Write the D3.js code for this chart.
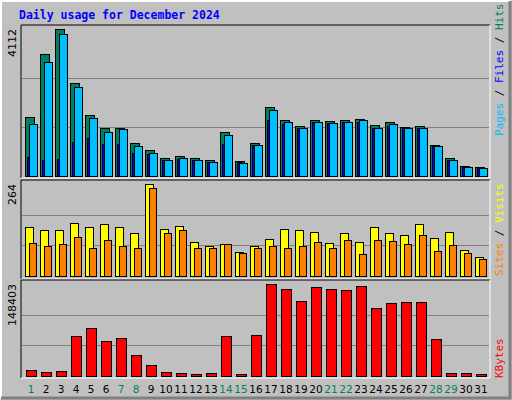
<!DOCTYPE html>
<html><head><meta charset="utf-8">
<script src="https://cdn.jsdelivr.net/npm/d3@7"></script>
<style>body{margin:0;background:#fff}</style>
</head><body>
<svg id="chart" width="512" height="400"></svg>
<script>
var days = d3.range(1, 32);
var weekend = [1, 7, 8, 14, 15, 21, 22, 28, 29];
var hits = [1650,3410,4112,2600,1705,1340,1340,925,730,505,560,505,450,1230,420,925,1930,1565,1400,1565,1540,1565,1595,1425,1510,1370,1400,865,505,280,250];
var pages = [1455,3190,3970,2490,1620,1230,1315,840,640,450,505,450,390,1145,365,865,1845,1510,1340,1510,1480,1510,1565,1340,1455,1340,1340,840,450,250,225];
var files = [530,450,475,950,1060,895,895,640,615,450,475,450,390,895,390,865,1565,1455,1340,1510,1480,1510,1510,1340,1400,1340,1340,840,450,250,225];
var visits = [141,132,132,152,141,149,141,123,264,135,143,98,86,92,69,86,106,135,132,126,95,123,98,141,123,118,149,109,126,75,55];
var sites = [95,86,92,112,80,103,86,80,253,123,132,80,80,92,66,80,86,80,86,98,80,103,63,103,100,92,118,72,89,66,49];
var kbytes = [10290,7040,8670,63910,76910,55790,60660,34660,18410,7040,5420,3790,5420,63910,3790,65530,148403,140270,120780,143520,140270,138650,145150,109400,117530,119150,119150,59030,5420,5420,3790];

var svg = d3.select("#chart");
svg.append("rect").attr("width", 512).attr("height", 400).attr("fill", "#c0c0c0");
// bevel frame
svg.append("path").attr("d", "M1,399V1H511").attr("stroke", "#fff").attr("stroke-width", 2).attr("fill", "none");
svg.append("path").attr("d", "M1,398H510V1").attr("stroke", "#808080").attr("stroke-width", 3).attr("fill", "none");

svg.append("text").attr("x", 19).attr("y", 19)
  .attr("font-family", "DejaVu Sans Mono").attr("font-weight", "bold").attr("font-size", 11.5)
  .attr("fill", "#0000ff").text("Daily usage for December 2024");

var x = d3.scaleLinear().domain([1, 31]).range([25, 475]);
var mono = "DejaVu Sans Mono";

function panel(top, bottom, baseline, maxTop) {
  svg.append("path").attr("d", `M21,${bottom}V${top}H490`).attr("stroke", "#000").attr("fill", "none");
  svg.append("path").attr("d", `M21,${bottom}H490V${top}`).attr("stroke", "#fff").attr("fill", "none");
  var h = baseline - maxTop;
  [1, 2].forEach(function(i) {
    var gy = Math.round(baseline - h * i / 3) + 0.5;
    svg.append("line").attr("x1", 22).attr("x2", 489).attr("y1", gy).attr("y2", gy).attr("stroke", "#808080");
  });
}

function bars(data, max, base, top, color, dx, w) {
  var y = d3.scaleLinear().domain([0, max]).range([base, top]);
  svg.append("g").selectAll("rect").data(data).join("rect")
    .attr("x", (d, i) => x(i + 1) + dx + 0.5)
    .attr("y", d => Math.round(y(d)) + 0.5)
    .attr("width", w)
    .attr("height", d => base - Math.round(y(d)))
    .attr("fill", color).attr("stroke", "#000");
}

function sideLabel(xp, yp, parts) {
  var t = svg.append("text").attr("transform", `translate(${xp},${yp}) rotate(-90)`)
    .attr("font-family", mono).attr("font-size", 11);
  parts.forEach(function(p) { t.append("tspan").attr("fill", p[1]).text(p[0]); });
}
function maxLabel(yp, txt) {
  svg.append("text").attr("transform", `translate(16,${yp}) rotate(-90)`)
    .attr("text-anchor", "end").attr("font-family", "DejaVu Sans").attr("font-size", 11)
    .attr("fill", "#000").text(txt);
}

// top panel
panel(25, 178, 176, 29);
bars(hits, 4112, 176, 29, "#00805c", 0, 9);
bars(files, 4112, 176, 29, "#0000ff", 2, 4);
bars(pages, 4112, 176, 29, "#00bfff", 4, 8);
maxLabel(29, "4112");
sideLabel(503, 136, [["Pages", "#00bfff"], [" / ", "#000"], ["Files", "#0000ff"], [" / ", "#000"], ["Hits", "#00805c"]]);

// middle panel
panel(180, 279, 276, 184);
bars(visits, 264, 276, 184, "#ffff00", 0, 8);
bars(sites, 264, 276, 184, "#ff8000", 4, 7);
maxLabel(184, "264");
sideLabel(503, 276, [["Sites", "#ff8000"], [" / ", "#000"], ["Visits", "#ffff00"]]);

// bottom panel
panel(280, 378, 376, 284);
bars(kbytes, 148403, 376, 284, "#ff0000", 1, 10);
maxLabel(284, "148403");
sideLabel(503, 378, [["KBytes", "#ff0000"]]);

// day labels
svg.append("g").selectAll("text").data(days).join("text")
  .attr("x", d => x(d) + 6).attr("y", 393).attr("text-anchor", "middle")
  .attr("font-family", "DejaVu Sans").attr("font-size", 10.5)
  .attr("fill", d => weekend.includes(d) ? "#00805c" : "#000")
  .text(d => d);
</script>
</body></html>
